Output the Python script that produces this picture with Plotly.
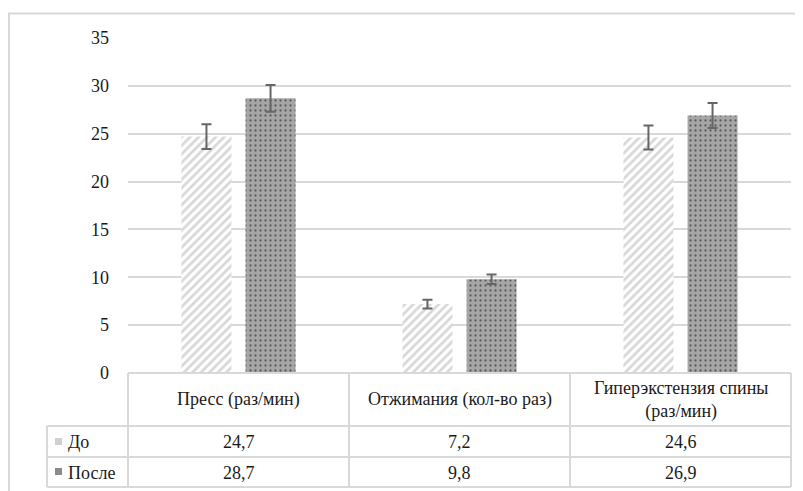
import plotly.graph_objects as go

categories = ["Пресс (раз/мин)", "Отжимания (кол-во раз)", "Гиперэкстензия спины<br>(раз/мин)"]
series_names = ["До", "После"]
before_values = [24.7, 7.2, 24.6]
after_values = [28.7, 9.8, 26.9]
before_err = [1.3, 0.45, 1.25]
after_err = [1.4, 0.5, 1.3]
y_ticks = [0, 5, 10, 15, 20, 25, 30, 35]

FONT = "Times New Roman, Liberation Serif, Tinos, DejaVu Serif, Noto Serif, serif"
GRID = "#d9d9d9"
TXT = "#1a1a1a"

xs = list(range(len(categories)))

fig = go.Figure()
fig.add_trace(go.Bar(
    x=xs, y=before_values, name=series_names[0],
    marker=dict(color="white", line=dict(width=0),
                pattern=dict(shape="/", fgcolor="#b0b0b0", bgcolor="white",
                             size=6, solidity=0.45, fillmode="overlay")),
    error_y=dict(type="data", array=before_err, visible=True,
                 color="#666666", thickness=2, width=5),
))
fig.add_trace(go.Bar(
    x=xs, y=after_values, name=series_names[1],
    marker=dict(color="#a6a6a6", line=dict(width=0),
                pattern=dict(shape=".", fgcolor="#111111", bgcolor="#a6a6a6",
                             size=5, solidity=0.16, fillmode="overlay")),
    error_y=dict(type="data", array=after_err, visible=True,
                 color="#666666", thickness=2, width=5),
))

OFF = 8  # page body margin
W, H = 803, 491
L = 128 - OFF
T = 38 - OFF
R = W - (791 - OFF)
B = H - (373 - OFF)
PW, PH = W - L - R, H - T - B


def px_y(py):
    return (H - B - (py - OFF)) / PH


def px_x(px):
    return ((px - OFF) - L) / PW


shapes = []
line = dict(color=GRID, width=2)
# outer chart border
shapes.append(dict(type="rect", xref="paper", yref="paper",
                   x0=px_x(9), x1=px_x(802), y0=px_y(505), y1=px_y(13.5),
                   line=dict(color=GRID, width=2), fillcolor="rgba(0,0,0,0)", layer="below"))
# data table horizontal lines
row_tops = [373, 426, 457, 487]
for i, py in enumerate(row_tops):
    x0 = 0 if i == 0 else px_x(47)
    shapes.append(dict(type="line", xref="paper", yref="paper",
                       x0=x0, x1=1, y0=px_y(py), y1=px_y(py), line=line))
# vertical lines: legend column
shapes.append(dict(type="line", xref="paper", yref="paper",
                   x0=px_x(47), x1=px_x(47), y0=px_y(426), y1=px_y(487), line=line))
for k in range(len(categories) + 1):
    xp = k / len(categories)
    shapes.append(dict(type="line", xref="paper", yref="paper",
                       x0=xp, x1=xp, y0=px_y(373), y1=px_y(487), line=line))
# legend swatches in table
shapes.append(dict(type="rect", xref="paper", yref="paper",
                   x0=px_x(55), x1=px_x(62), y0=px_y(445), y1=px_y(438),
                   line=dict(width=0), fillcolor="#d0d0d0"))
shapes.append(dict(type="rect", xref="paper", yref="paper",
                   x0=px_x(55), x1=px_x(62), y0=px_y(475), y1=px_y(468),
                   line=dict(width=0), fillcolor="#8a8a8a"))

annotations = []
for i, c in enumerate(categories):
    annotations.append(dict(x=i, xref="x", y=px_y(399.5), yref="paper", text=c,
                            showarrow=False, font=dict(family=FONT, size=18, color=TXT),
                            xanchor="center", yanchor="middle"))
    annotations.append(dict(x=i, xref="x", y=px_y(442), yref="paper",
                            text=f"{before_values[i]:.1f}".replace(".", ","),
                            showarrow=False, font=dict(family=FONT, size=18, color=TXT),
                            xanchor="center", yanchor="middle"))
    annotations.append(dict(x=i, xref="x", y=px_y(472.5), yref="paper",
                            text=f"{after_values[i]:.1f}".replace(".", ","),
                            showarrow=False, font=dict(family=FONT, size=18, color=TXT),
                            xanchor="center", yanchor="middle"))
for name, py in zip(series_names, [442, 472.5]):
    annotations.append(dict(x=px_x(66), xref="paper", y=px_y(py), yref="paper", text=name,
                            showarrow=False, font=dict(family=FONT, size=18, color=TXT),
                            xanchor="left", yanchor="middle"))

fig.update_layout(
    width=W, height=H,
    margin=dict(l=L, r=R, t=T, b=B, pad=0),
    paper_bgcolor="white", plot_bgcolor="white",
    barmode="group", bargap=0.42, bargroupgap=0.22,
    showlegend=False,
    font=dict(family=FONT, size=18, color=TXT),
    xaxis=dict(range=[-0.5, 2.5], showticklabels=False, showgrid=False,
               zeroline=False, showline=False, ticks="", fixedrange=True),
    yaxis=dict(range=[0, 35], tickvals=y_ticks, showgrid=True, gridcolor=GRID,
               gridwidth=2, zeroline=False, showline=False, ticks="",
               ticklabelstandoff=18,
               tickfont=dict(family=FONT, size=18, color=TXT)),
    shapes=shapes, annotations=annotations,
)

fig.write_html("out.html")
